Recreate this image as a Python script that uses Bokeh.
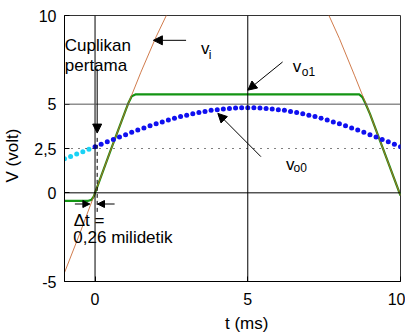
from bokeh.plotting import figure
from bokeh.models import Range1d, FixedTicker, Span, Label, Arrow, NormalHead
from bokeh.embed import file_html
from bokeh.resources import INLINE

# ---- data (t in ms, V in volt) ----
# input voltage v_i
t_vi = [-1.0, -0.5, 0.0, 0.5, 1.0, 1.5, 2.0, 2.5, 3.0, 4.0, 5.0, 6.0, 7.0, 7.5, 8.0, 8.5, 9.0, 9.5, 10.0]
v_vi = [-4.5, -2.3, 0.0, 2.35, 4.65, 6.8, 8.8, 10.6, 12.1, 14.2, 14.9, 14.2, 12.1, 10.6, 8.7, 6.6, 4.45, 2.15, -0.15]

# clipped output v_o1
t_vo1 = [-1.0, -0.22, -0.12, -0.04, 0.0, 0.5, 1.0, 1.1, 1.2, 1.32, 8.65, 8.75, 8.85, 9.0, 9.5, 10.0]
v_vo1 = [-0.45, -0.45, -0.4, -0.2, 0.0, 2.35, 4.65, 5.1, 5.45, 5.55, 5.55, 5.4, 5.05, 4.45, 2.15, -0.15]

# sampled output v_o0 (dots) - before the first sample (cyan)
t_vo0_pre = [-1.0, -0.8, -0.6, -0.4, -0.2]
v_vo0_pre = [1.92, 2.05, 2.19, 2.32, 2.46]
# after the first sample (blue)
t_vo0 = [0.0, 0.2, 0.4, 0.6, 0.8, 1.0, 1.2, 1.4, 1.6, 1.8,
         2.0, 2.2, 2.4, 2.6, 2.8, 3.0, 3.2, 3.4, 3.6, 3.8,
         4.0, 4.2, 4.4, 4.6, 4.8, 5.0, 5.2, 5.4, 5.6, 5.8,
         6.0, 6.2, 6.4, 6.6, 6.8, 7.0, 7.2, 7.4, 7.6, 7.8,
         8.0, 8.2, 8.4, 8.6, 8.8, 9.0, 9.2, 9.4, 9.6, 9.8, 10.0]
v_vo0 = [2.60, 2.74, 2.88, 3.01, 3.15, 3.28, 3.41, 3.54, 3.66, 3.78,
         3.89, 4.00, 4.11, 4.20, 4.30, 4.38, 4.46, 4.53, 4.59, 4.65,
         4.69, 4.73, 4.76, 4.78, 4.80, 4.80, 4.80, 4.78, 4.76, 4.73,
         4.69, 4.65, 4.59, 4.53, 4.46, 4.38, 4.30, 4.20, 4.11, 4.00,
         3.89, 3.78, 3.66, 3.54, 3.41, 3.28, 3.15, 3.01, 2.88, 2.74, 2.60]

x_ticks = [0, 5, 10]
y_ticks = [-5, 0, 2.5, 5, 10]
y_tick_labels = {2.5: "2,5", -5: "-5"}

FONT = "Liberation Sans"
NB = "\u00a0"

p = figure(width=405, height=335, x_range=Range1d(-1, 10), y_range=Range1d(-5, 10),
           output_backend="svg", toolbar_location=None,
           min_border_left=63, min_border_right=5, min_border_top=15, min_border_bottom=53)
p.grid.visible = False
p.outline_line_color = "#333333"
p.background_fill_color = "white"

p.xaxis.ticker = FixedTicker(ticks=x_ticks)
p.yaxis.ticker = FixedTicker(ticks=y_ticks)
p.yaxis.major_label_overrides = y_tick_labels
for ax in (p.xaxis, p.yaxis):
    ax.major_tick_in = 5
    ax.major_tick_out = 0
    ax.minor_tick_line_color = None
    ax.axis_line_color = "black"
    ax.major_tick_line_color = "black"
    ax.major_label_text_font = FONT
    ax.major_label_text_font_size = "16px"
    ax.major_label_text_color = "black"
    ax.axis_label_text_font = FONT
    ax.axis_label_text_font_size = "17px"
    ax.axis_label_text_font_style = "normal"
    ax.axis_label_text_color = "black"
p.xaxis.major_label_standoff = 11
p.yaxis.major_label_standoff = 8
p.xaxis.axis_label = NB * 6 + "t (ms)"
p.xaxis.axis_label_standoff = 6
p.yaxis.axis_label = "V (volt)" + NB * 3
p.yaxis.axis_label_standoff = 9

# grid lines
for xv in (0, 5):
    p.add_layout(Span(location=xv, dimension="height", line_color="black", line_width=1))
p.add_layout(Span(location=0, dimension="width", line_color="black", line_width=1))
p.add_layout(Span(location=5, dimension="width", line_color="#555555", line_width=1))
p.add_layout(Span(location=2.5, dimension="width", line_color="black", line_width=1, line_dash="1 6"))

# curves
p.line(t_vo1, v_vo1, line_color="#139413", line_width=2.2)
p.line(t_vi, v_vi, line_color="#c8642d", line_width=1, line_alpha=0.85)
p.scatter(t_vo0_pre, v_vo0_pre, size=5, fill_color="#1ad2f5", line_color=None)
p.scatter(t_vo0, v_vo0, size=5, fill_color="#1010f0", line_color=None)

# dashed marker of the first sample
p.line([0.07, 0.07], [3.1, -1.2], line_color="black", line_width=1, line_dash="4 3")

def arrow(x0, y0, x1, y1, size=9):
    p.add_layout(Arrow(end=NormalHead(size=size, fill_color="black", line_color="black"),
                       x_start=x0, y_start=y0, x_end=x1, y_end=y1,
                       line_color="black", line_width=1))

arrow(0.07, 7.0, 0.07, 3.37)
arrow(2.98, 8.6, 1.91, 8.6)
arrow(6.14, 7.38, 5.0, 5.79)
arrow(5.43, 2.04, 4.02, 4.48)
arrow(-0.66, -0.63, -0.17, -0.63, size=7)
arrow(0.64, -0.63, 0.08, -0.63, size=7)

def text(x, y, s, size="17px", align="left", baseline="alphabetic", angle=0):
    p.add_layout(Label(x=x, y=y, text=s, text_font=FONT, text_font_size=size,
                       text_color="black", text_align=align, text_baseline=baseline,
                       angle=angle))

text(-0.99, 8.31, "Cuplikan")
text(-0.99, 7.19, "pertama")
text(-0.70, -1.57, "\u0394t =", baseline="middle")
text(-0.71, -2.50, "0,26 milidetik", baseline="middle")

text(3.47, 8.13, "v", size="17px")
text(3.72, 7.75, "i", size="12px")
text(6.47, 7.13, "v", size="17px")
text(6.77, 6.81, "o1", size="12px")
text(6.25, 1.57, "v", size="17px")
text(6.50, 1.39, "o0", size="12px")

open("out.html", "w").write(file_html(p, INLINE))
